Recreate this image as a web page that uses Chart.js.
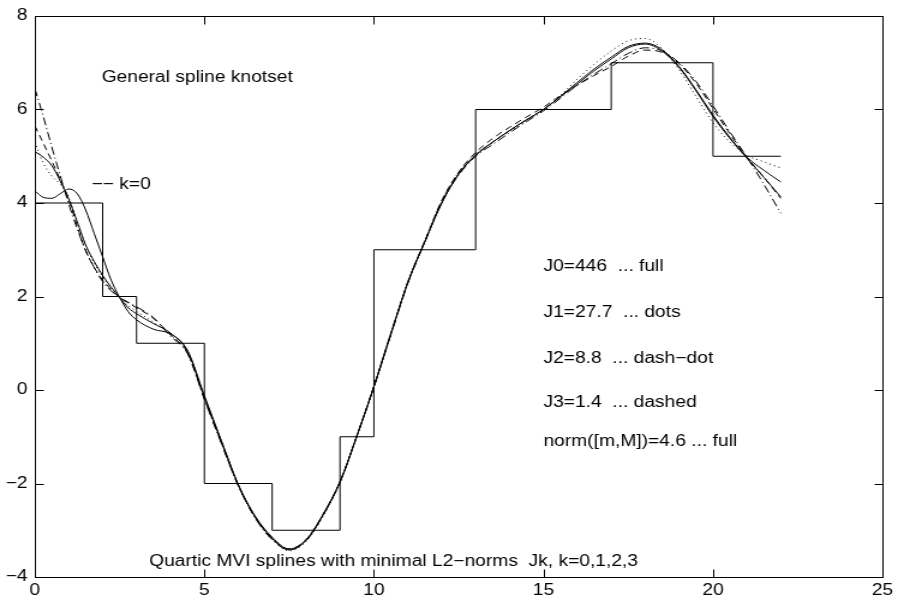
<!DOCTYPE html>
<html>
<head>
<meta charset="utf-8">
<script src="https://cdn.jsdelivr.net/npm/chart.js@4.4.1/dist/chart.umd.min.js"></script>
<style>
  body { margin: 0; background: #fff; }
</style>
</head>
<body>
<!-- drawn at 748 wide and stretched to 898, like the reference -->
<canvas id="myCanvas" width="748" height="598" style="width:898px;height:598px;display:block"></canvas>
<script>
// step function (knot averages)
const stepX = [0, 2, 3, 5, 7, 9, 10, 13, 17, 20, 22];
const stepY = [4, 2, 1, -2, -3, -1, 3, 6, 7, 5, 5];

// common abscissae for the spline curves
const xs = [0, 0.25, 0.5, 0.75, 1, 1.25, 1.5, 1.75, 2, 2.25, 2.5, 2.75, 3, 3.5, 4, 4.5, 5, 5.5, 6, 6.5,
  7, 7.5, 8, 8.5, 9, 9.5, 10, 10.5, 11, 11.5, 12, 12.5, 13, 13.5, 14, 14.5, 15, 15.5, 16, 16.5,
  17, 17.5, 18, 18.5, 19, 19.5, 20, 20.5, 21, 21.5, 22];

// k=0, full (wiggly one)
const splineJ0 = [4.26, 4.12, 4.1, 4.2, 4.3, 4.2, 3.85, 3.35, 2.85, 2.35, 1.98, 1.68, 1.5, 1.3, 1.2, 0.85,
  -0.12, -1.08, -2.02, -2.7, -3.15, -3.4, -3.2, -2.66, -1.96, -0.98, 0.07, 1.2, 2.3, 3.17, 4.0, 4.62,
  5.02, 5.3, 5.55, 5.78, 6.0, 6.28, 6.58, 6.87, 7.12, 7.35, 7.42, 7.28, 6.92, 6.42, 5.88, 5.4, 4.98, 4.7, 4.45];
// k=1, dots
const splineJ1 = [5.3, 4.85, 4.58, 4.4, 4.12, 3.6, 3.1, 2.72, 2.42, 2.18, 1.98, 1.8, 1.68, 1.45, 1.18, 0.8,
  -0.16, -1.12, -2.05, -2.74, -3.2, -3.44, -3.24, -2.7, -1.98, -0.98, 0.08, 1.22, 2.32, 3.2, 4.05, 4.66,
  5.05, 5.3, 5.53, 5.76, 6.0, 6.3, 6.65, 6.97, 7.25, 7.47, 7.52, 7.3, 6.85, 6.28, 5.72, 5.3, 5.02, 4.88, 4.75];
// k=2, dash-dot
const splineJ2 = [6.45, 5.85, 5.2, 4.58, 3.98, 3.45, 2.98, 2.62, 2.32, 2.12, 1.98, 1.88, 1.78, 1.55, 1.15, 0.78,
  -0.2, -1.14, -2.05, -2.74, -3.2, -3.42, -3.22, -2.68, -1.97, -0.98, 0.06, 1.18, 2.28, 3.16, 4.02, 4.6,
  5.0, 5.25, 5.5, 5.74, 5.97, 6.24, 6.52, 6.76, 6.98, 7.2, 7.32, 7.25, 7.0, 6.6, 6.08, 5.52, 4.98, 4.4, 3.78];
// k=3, dashed
const splineJ3 = [5.65, 5.28, 4.9, 4.5, 4.08, 3.5, 2.98, 2.62, 2.35, 2.15, 1.98, 1.86, 1.76, 1.53, 1.18, 0.8,
  -0.18, -1.12, -2.04, -2.72, -3.17, -3.4, -3.2, -2.66, -1.96, -0.97, 0.08, 1.2, 2.3, 3.18, 4.05, 4.66,
  5.08, 5.38, 5.62, 5.84, 6.05, 6.3, 6.52, 6.73, 6.92, 7.14, 7.27, 7.22, 6.98, 6.56, 6.02, 5.48, 4.98, 4.55, 4.1];
// norm([m,M]), full
const splineNorm = [5.1, 4.98, 4.8, 4.47, 4.08, 3.6, 3.1, 2.75, 2.45, 2.2, 1.98, 1.76, 1.63, 1.42, 1.22, 0.83,
  -0.15, -1.1, -2.03, -2.72, -3.18, -3.42, -3.22, -2.68, -1.97, -0.98, 0.07, 1.2, 2.3, 3.17, 4.0, 4.62,
  5.02, 5.3, 5.55, 5.78, 6.0, 6.27, 6.55, 6.83, 7.08, 7.32, 7.4, 7.25, 6.9, 6.4, 5.85, 5.38, 4.96, 4.55, 4.13];

const xTicks = [0, 5, 10, 15, 20, 25];
const yTicks = [-4, -2, 0, 2, 4, 6, 8];

// text notes, in data coordinates
const noteText = ['General spline knotset', '\u2212\u2212 k=0',
  'J0=446  ... full', 'J1=27.7  ... dots', 'J2=8.8  ... dash\u2212dot', 'J3=1.4  ... dashed',
  'norm([m,M])=4.6 ... full', 'Quartic MVI splines with minimal L2\u2212norms  Jk, k=0,1,2,3'];
const noteX = [1.97, 1.67, 15, 15, 15, 15, 15, 3.37];
const noteY = [6.69, 4.4, 2.63, 1.65, 0.68, -0.26, -1.11, -3.68];

function pts(ys) {
  return xs.map((x, i) => ({ x: x, y: ys[i] }));
}

function curve(ys, dash) {
  return {
    data: pts(ys),
    borderColor: '#000',
    borderWidth: 1,
    borderDash: dash,
    pointRadius: 0,
    fill: false,
    cubicInterpolationMode: 'monotone'
  };
}

const minus = v => (v < 0 ? '\u2212' + Math.abs(v) : '' + v);

// MATLAB style box with inward ticks on all four sides, plus the text notes
const boxPlugin = {
  id: 'boxPlugin',
  afterDraw(chart) {
    const { ctx, chartArea: a, scales: { x, y } } = chart;
    ctx.save();
    ctx.strokeStyle = '#000';
    ctx.lineWidth = 1;
    ctx.setLineDash([]);
    const L = Math.round(a.left) + 0.5, R = Math.round(a.right) + 0.5;
    const T = Math.round(a.top) + 0.5, B = Math.round(a.bottom) + 0.5;
    ctx.strokeRect(L, T, R - L, B - T);
    ctx.beginPath();
    xTicks.forEach(v => {
      const p = Math.round(x.getPixelForValue(v)) + 0.5;
      ctx.moveTo(p, B); ctx.lineTo(p, B - 8);
      ctx.moveTo(p, T); ctx.lineTo(p, T + 8);
    });
    yTicks.forEach(v => {
      const p = Math.round(y.getPixelForValue(v)) + 0.5;
      ctx.moveTo(L, p); ctx.lineTo(L + 7, p);
      ctx.moveTo(R, p); ctx.lineTo(R - 7, p);
    });
    ctx.stroke();

    ctx.fillStyle = '#000';
    ctx.font = '16px "Liberation Sans", Arial, sans-serif';
    ctx.textBaseline = 'middle';
    noteText.forEach((t, i) => {
      ctx.fillText(t, x.getPixelForValue(noteX[i]), y.getPixelForValue(noteY[i]));
    });
    ctx.restore();
  }
};

document.addEventListener('DOMContentLoaded', () => {
  const ctx = document.getElementById('myCanvas').getContext('2d');

  const data = {
    datasets: [
      {
        data: stepX.map((x, i) => ({ x: x, y: stepY[i] })),
        borderColor: '#000',
        borderWidth: 1,
        pointRadius: 0,
        fill: false,
        stepped: 'before'
      },
      curve(splineJ0, []),
      curve(splineJ1, [1, 3]),
      curve(splineJ2, [8, 3, 1, 3]),
      curve(splineJ3, [6, 4]),
      curve(splineNorm, [])
    ]
  };

  const tickFont = { family: '"Liberation Sans", Arial, sans-serif', size: 16 };
  const noGrid = { display: false, drawTicks: false, tickLength: 0 };

  const config = {
    type: 'line',
    data: data,
    options: {
      responsive: false,
      animation: false,
      devicePixelRatio: 1,
      layout: { padding: { top: 16, right: 9, left: 0, bottom: 0 } },
      plugins: { legend: { display: false }, tooltip: { enabled: false } },
      scales: {
        x: {
          type: 'linear',
          min: 0, max: 25,
          afterFit: s => { s.height = 21; },
          afterBuildTicks: s => { s.ticks = xTicks.map(v => ({ value: v })); },
          grid: noGrid,
          border: { display: false },
          ticks: { color: '#000', font: tickFont, padding: 4, maxRotation: 0, callback: minus }
        },
        y: {
          type: 'linear',
          min: -4, max: 8,
          afterFit: s => { s.width = 29; },
          afterBuildTicks: s => { s.ticks = yTicks.map(v => ({ value: v })); },
          grid: noGrid,
          border: { display: false },
          ticks: { color: '#000', font: tickFont, padding: 6, callback: minus }
        }
      }
    },
    plugins: [boxPlugin]
  };

  const myChart = new Chart(ctx, config);
});
</script>
</body>
</html>
